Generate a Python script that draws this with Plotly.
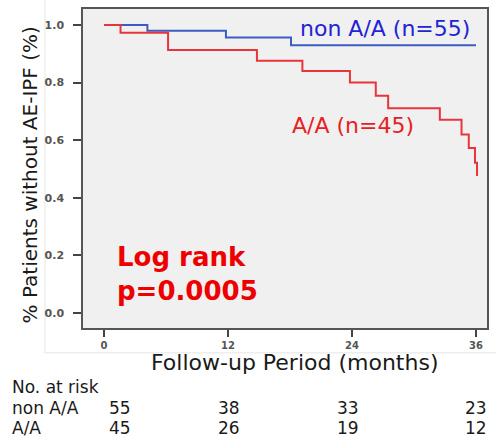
import plotly.graph_objects as go

# ---- data ----
non_aa_months = [0, 4.2, 11.8, 18.1, 36.0]
non_aa_surv = [1.0, 0.980, 0.956, 0.929, 0.929]

aa_months = [0, 1.6, 6.2, 14.8, 19.2, 23.8, 26.3, 27.5, 32.5, 34.6, 35.3, 35.9, 36.1]
aa_surv = [1.0, 0.973, 0.913, 0.876, 0.840, 0.800, 0.754, 0.711, 0.671, 0.620, 0.573, 0.522, 0.476]

x_ticks = [0, 12, 24, 36]
y_ticks = [0.0, 0.2, 0.4, 0.6, 0.8, 1.0]

risk_groups = ["non A/A", "A/A"]
risk_non_aa = [55, 38, 33, 23]
risk_aa = [45, 26, 19, 12]

label_non_aa = "non A/A (n=55)"
label_aa = "A/A (n=45)"
logrank_lines = ["Log rank", "p=0.0005"]

# ---- layout geometry (pixels) ----
W, H = 496, 441
L, R, T, B = 83, 487, 7, 328


def px(x):
    return (x - L) / (R - L)


def py(y):
    return (B - y) / (B - T)


FONT = "DejaVu Sans"
BLUE_LINE = "#3c5cc4"
RED_LINE = "#e8353b"

fig = go.Figure()
fig.add_trace(go.Scatter(x=non_aa_months, y=non_aa_surv, mode="lines",
                         line=dict(shape="hv", color=BLUE_LINE, width=2),
                         showlegend=False, hoverinfo="skip"))
fig.add_trace(go.Scatter(x=aa_months, y=aa_surv, mode="lines",
                         line=dict(shape="hv", color=RED_LINE, width=2),
                         showlegend=False, hoverinfo="skip"))

ann = []
ann.append(dict(text=label_non_aa, x=px(385), y=py(27), xref="paper", yref="paper",
                xanchor="center", yanchor="middle", showarrow=False,
                font=dict(family=FONT, size=22, color="#2323d6")))
ann.append(dict(text=label_aa, x=px(352.5), y=py(124), xref="paper", yref="paper",
                xanchor="center", yanchor="middle", showarrow=False,
                font=dict(family=FONT, size=22, color="#e82020")))
for i, (txt, yy) in enumerate(zip(logrank_lines, [257, 291])):
    ann.append(dict(text="<b>" + txt + "</b>", x=px(115), y=py(yy), xref="paper", yref="paper",
                    xanchor="left", yanchor="middle", showarrow=False,
                    font=dict(family=FONT, size=26, color="#ee0000")))
# axis titles
ann.append(dict(text="Follow-up Period (months)", x=px(294), y=py(363), xref="paper", yref="paper",
                xanchor="center", yanchor="middle", showarrow=False,
                font=dict(family=FONT, size=22, color="#1a1a1a")))
ann.append(dict(text="% Patients without AE-IPF (%)", x=px(30), y=py(174.5), xref="paper", yref="paper",
                xanchor="center", yanchor="middle", showarrow=False, textangle=-90,
                font=dict(family=FONT, size=20, color="#1a1a1a")))
# at-risk table
ann.append(dict(text="No. at risk", x=px(10), y=py(387), xref="paper", yref="paper",
                xanchor="left", yanchor="middle", showarrow=False,
                font=dict(family=FONT, size=17, color="#1a1a1a")))
row_y = [408, 429]
col_x = [120, 229, 347.5, 476]
for grp, vals, yy in zip(risk_groups, [risk_non_aa, risk_aa], row_y):
    ann.append(dict(text=grp, x=px(10), y=py(yy), xref="paper", yref="paper",
                    xanchor="left", yanchor="middle", showarrow=False,
                    font=dict(family=FONT, size=17, color="#1a1a1a")))
    for v, cx in zip(vals, col_x):
        ann.append(dict(text=str(v), x=px(cx), y=py(yy), xref="paper", yref="paper",
                        xanchor="center", yanchor="middle", showarrow=False,
                        font=dict(family=FONT, size=17, color="#1a1a1a")))

shapes = [dict(type="rect", xref="paper", yref="paper",
               x0=px(45), x1=px(505), y0=py(353), y1=py(-5),
               line=dict(color="#e6e6e6", width=1), fillcolor="rgba(0,0,0,0)", layer="below")]

x_per_px = 36 / (476 - 104)
y_per_px = 1.0 / (313 - 23)

fig.update_layout(
    width=W, height=H,
    margin=dict(l=L, r=W - R, t=T, b=H - B),
    paper_bgcolor="white", plot_bgcolor="#f0f0f0",
    annotations=ann, shapes=shapes,
    xaxis=dict(range=[(L - 104) * x_per_px, (R - 104) * x_per_px],
               tickvals=x_ticks, ticktext=[str(t) for t in x_ticks],
               ticks="outside", ticklen=7, tickwidth=2, tickcolor="#444",
               showgrid=False, zeroline=False, showline=True, mirror=True,
               linecolor="#555", linewidth=1.5,
               tickfont=dict(family=FONT, size=10, color="#555", weight="bold")),
    yaxis=dict(range=[(313 - B) * y_per_px, (313 - T) * y_per_px],
               tickvals=y_ticks, tickformat=".1f",
               ticks="outside", ticklen=8, tickwidth=1.5, tickcolor="#444",
               ticklabelstandoff=7,
               showgrid=False, zeroline=False, showline=True, mirror=True,
               linecolor="#555", linewidth=1.5,
               tickfont=dict(family=FONT, size=11, color="#555", weight="bold")),
)

fig.write_html("out.html", config={"displayModeBar": False},
               post_script="document.body.style.margin='0';document.body.style.overflow='hidden';")
